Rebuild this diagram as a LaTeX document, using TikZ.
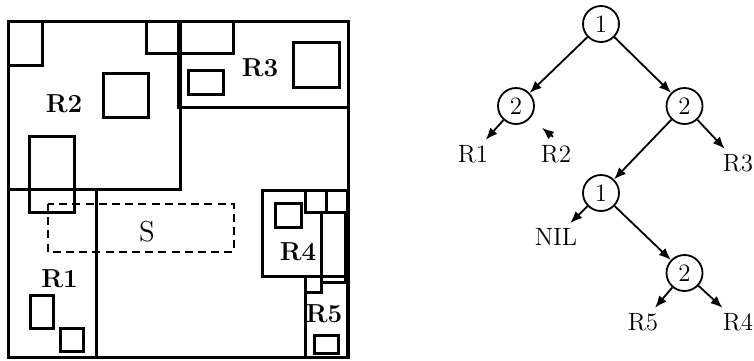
\documentclass[tikz,border=0pt]{standalone}
\usepackage{tikz}
\usetikzlibrary{arrows.meta, positioning, calc}
\tikzset{
  region/.style={draw, line width=1.5pt},
  cell/.style={draw, line width=1.5pt},
  query/.style={draw, dashed, line width=1.3pt, dash pattern=on 4pt off 2.6pt},
  tag/.style={font=\fontsize{13}{15}\selectfont\bfseries, inner sep=0pt},
  tnode/.style={circle, draw, line width=0.9pt, minimum size=18pt,
    inner sep=0pt, font=\fontsize{12.5}{14}\selectfont},
  leaf/.style={font=\fontsize{12.5}{14}\selectfont, inner sep=2.5pt},
  arrow/.style={-{Latex[length=6pt,width=4.8pt]}, line width=0.9pt}
}

\begin{document}
\begin{tikzpicture}[x=0.5pt, y=-0.5pt]
  \useasboundingbox (0,0) rectangle (754,360);

  % Outer frame and regions
  \draw[region] (8.5,21) rectangle (348.5,357.5);
  \draw[region] (8.5,21) rectangle (180,189);
  \draw[region] (178,21) rectangle (348.5,107);
  \draw[region] (8.5,189) rectangle (96,357.5);
  \draw[region] (262,190) rectangle (347,276);
  \draw[region] (305,276) rectangle (347,357.5);

  % Data rectangles
  \foreach \xa/\ya/\xb/\yb in {8.5/21/42/65, 146/21/178/53, 178/21/233/53,
      103/73/148/117, 29/136/74/212, 188/70/223/94, 293/42/339/87,
      30/295/53/328, 60/328/83/351, 275/203/301/227, 305/190/326/212,
      326/190/348/212, 321/212/345/282, 305/276/321/292, 314/335/338/353} {
    \draw[cell] (\xa,\ya) rectangle (\xb,\yb);
  }

  % Query window
  \draw[query] (48,204) rectangle (234,252);
  \node[font=\fontsize{14.4}{16}\selectfont] (s) at (147,232) {S};

  % Region labels
  \node[tag] (t2) at (64,104) {R2};
  \node[tag] (t3) at (260,68) {R3};
  \node[tag] (t1) at (59.5,279) {R1};
  \node[tag] (t4) at (298,252) {R4};
  \node[tag] (t5) at (324,314) {R5};

  % Tree
  \node[tnode] (root) at (601,24) {1};
  \node[tnode] (left) at (516,106) {2};
  \node[tnode] (right) at (684.5,106) {2};
  \node[tnode] (mid) at (601,193) {1};
  \node[tnode] (low) at (684.5,273) {2};
  \node[leaf] (r1) at (473,154) {R1};
  \node[leaf] (r2) at (556,154) {R2};
  \node[leaf] (r3) at (738,163) {R3};
  \node[leaf] (nil) at (556,237) {NIL};
  \node[leaf] (r5) at (643,322) {R5};
  \node[leaf] (r4) at (738,322) {R4};

  \draw[arrow] (root) -- (left);
  \draw[arrow] (root) -- (right);
  \draw[arrow] (left) -- (r1);
  \draw[arrow] (right) -- (mid);
  \draw[arrow] (right) -- (r3);
  \draw[arrow] (mid) -- (nil);
  \draw[arrow] (mid) -- (low);
  \draw[arrow] (low) -- (r5);
  \draw[arrow] (low) -- (r4);

  % Stray tip over R2
  \coordinate (stub) at ([shift={(-3,-3)}]r2.north);
  \draw[arrow] (stub) -- ++(-11,-9);
\end{tikzpicture}
\end{document}
